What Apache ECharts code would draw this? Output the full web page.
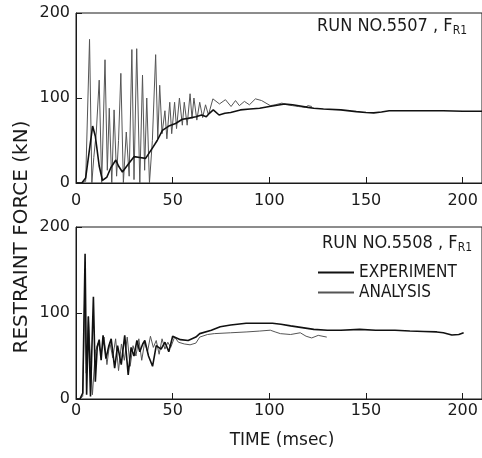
<!DOCTYPE html>
<html>
<head>
<meta charset="utf-8">
<script src="https://cdn.jsdelivr.net/npm/echarts@6/dist/echarts.min.js"></script>
<style>
html, body { margin: 0; padding: 0; background: #fff; }
#chart { width: 482px; height: 458px; }
</style>
</head>
<body>
<div id="chart"></div>
<script>
// x ticks and y ticks
var timeTicks = [0, 50, 100, 150, 200];
var forceTicks = [0, 100, 200];

// RUN NO.5507 (top)
var expTopT = [0,3,5,7,8.6,10,12,13.7,16,18,20.6,22,24,27,30,33,36,39.5,42,44.7,48,51.5,55,58,62,65,67.4,69,71,74,77,80,85,90,95,100,104,108,112,116,120,123,128,137,145,150,154,158,162,170,180,190,200,210];
var expTopV = [0,0,6,40,67,55,20,3,7,18,27,20,13,22,31,30,29,41,50,62,67,70,75,76,78,80,78,82,86,80,82,83,86,87,88,90,91.5,93,92,90.5,89,88,87,86,84,83,82.5,83.5,85,85,85,85,84.5,84.5];
var anaTopT = [0,3,5,7,8.2,9.2,10.5,12,13.3,15,16.2,17.2,18.5,19.7,21,22,23.2,24.5,26,27.5,28.9,30,31.4,33,34.4,35.5,36.6,38,39.5,41.2,42.3,43.3,44.5,46,47,48.5,49.5,51,52,53.5,55,56,57.5,59,60,61,62.5,64,65.5,67,68.5,70.8,74.2,77.3,80.2,82.5,84.5,87.1,89.7,92.8,96,100.5,103,106.5,109,112,115,118.5,120,122];
var anaTopV = [0,0,2,169,0,30,60,121,0,145,15,88,0,86,8,50,129,0,60,8,157,4,158,0,127,15,100,0,50,151,52,115,58,85,52,95,58,95,64,100,68,95,68,105,76,100,74,95,77,92,80,99,93,98,90,97,91,96,92,99,97,91,92,94,92,91,90,89,91,90];

// RUN NO.5508 (bottom)
var expBotT = [0,2,3.5,4.7,5.5,6.4,7.5,9,10,11,12,13,14,15.5,17,18.2,20,21.5,23.4,25.2,27,28.5,30,31.5,33,34.5,35.6,37.5,39.6,41.5,44,46,48,50,54,58,62,64,70,74.6,80,88,95,101.6,106,111,117,123,130,137,146.7,155,165,172.7,180,186.6,190,194.4,198,200.5];
var expBotV = [0,0,7,169,5,96,3,119,20,61,69,45,74,47,62,70,36,62,40,74,28,60,50,68,55,64,68,50,38,62,58,66,55,73,69,68,72,76,80,84,86,88,88,88,87,85,83,81,80,80,81,80,80,79,78.5,78,77,74.4,75,77];
var anaBotT = [0,2,3.5,4.5,5.3,6.4,7.5,8.5,10,11.5,13,14.5,16,17.5,19,20.5,22,23.5,25,26.5,28,29.5,31,32.5,34,35.5,37,38.5,40,41.5,43,44.5,46,47.5,49,51,53,56,59,62,64,68,71.5,80,88.4,95,100.5,103,105.7,111,116,119,121.9,125.3,129.7];
var anaBotV = [0,0,3,122,30,96,45,5,55,65,52,72,40,66,48,70,33,64,45,72,38,62,50,70,45,66,55,73,60,68,52,70,58,66,60,72,66,64,63,65,72,75,76,77,78,79,80,78,76,75,77,73,71,74,72];

function zip(ts, vs) {
    var out = [];
    for (var i = 0; i < ts.length; i++) out.push([ts[i], vs[i]]);
    return out;
}

var font = 'DejaVu Sans';
var condensed = '"DejaVu Sans Condensed", "DejaVu Sans"';
var ink = '#1a1a1a';

function makeX(idx, margin) {
    return {
        gridIndex: idx, type: 'value', min: 0, max: 210, interval: 50,
        axisLine: { lineStyle: { color: ink, width: 1 } },
        axisTick: { inside: true, length: 6, lineStyle: { color: ink } },
        axisLabel: {
            margin: margin, fontSize: 16, fontFamily: font, color: ink, showMaxLabel: false,
            formatter: function (v) { return timeTicks.indexOf(v) >= 0 ? String(v) : ''; }
        },
        splitLine: { show: false }
    };
}
function makeY(idx) {
    return {
        gridIndex: idx, type: 'value', min: forceTicks[0], max: forceTicks[2], interval: 100,
        axisLine: { show: true, lineStyle: { color: ink, width: 1 } },
        axisTick: { inside: true, length: 6, lineStyle: { color: ink } },
        axisLabel: { margin: 6, fontSize: 16, fontFamily: font, color: ink },
        splitLine: { show: false }
    };
}
function line(name, idx, data, color, width) {
    return {
        name: name, type: 'line', xAxisIndex: idx, yAxisIndex: idx,
        data: data, symbol: 'none', animation: false,
        lineStyle: { color: color, width: width }, itemStyle: { color: color }
    };
}

var chart = echarts.init(document.getElementById('chart'));
chart.setOption({
    backgroundColor: '#fff',
    animation: false,
    grid: [
        { left: 76, top: 13, right: -2, height: 170, show: true, borderColor: ink, borderWidth: 1 },
        { left: 76, top: 227, right: -2, height: 172, show: true, borderColor: ink, borderWidth: 1 }
    ],
    xAxis: [makeX(0, 10), makeX(1, 4)],
    yAxis: [makeY(0), makeY(1)],
    legend: {
        orient: 'vertical', left: 313, top: 259, itemWidth: 36, itemHeight: 2, itemGap: 3,
        icon: 'rect',
        textStyle: { fontSize: 17, fontFamily: condensed, color: ink },
        data: ['EXPERIMENT', 'ANALYSIS']
    },
    graphic: [
        {
            type: 'text', x: 22, y: 237, rotation: Math.PI / 2,
            style: { text: 'RESTRAINT FORCE (kN)', font: '20px "DejaVu Sans"', fill: ink, textAlign: 'center', textVerticalAlign: 'middle' }
        },
        {
            type: 'text', x: 282, y: 441,
            style: { text: 'TIME (msec)', font: '17px "DejaVu Sans"', fill: ink, textAlign: 'center', textVerticalAlign: 'middle' }
        },
        {
            type: 'text', right: 15, top: 17,
            style: {
                text: 'RUN NO.5507 , F{s|R1}', fill: ink,
                font: '18px ' + condensed,
                rich: { s: { fontSize: 12, fontFamily: condensed, padding: [9, 0, 0, 0] } }
            }
        },
        {
            type: 'text', right: 10, top: 234,
            style: {
                text: 'RUN NO.5508 , F{s|R1}', fill: ink,
                font: '18px ' + condensed,
                rich: { s: { fontSize: 12, fontFamily: condensed, padding: [9, 0, 0, 0] } }
            }
        }
    ],
    series: [
        line('ANALYSIS', 0, zip(anaTopT, anaTopV), '#555', 1),
        line('EXPERIMENT', 0, zip(expTopT, expTopV), '#111', 1.6),
        line('ANALYSIS', 1, zip(anaBotT, anaBotV), '#555', 1),
        line('EXPERIMENT', 1, zip(expBotT, expBotV), '#111', 1.6)
    ]
});
</script>
</body>
</html>
